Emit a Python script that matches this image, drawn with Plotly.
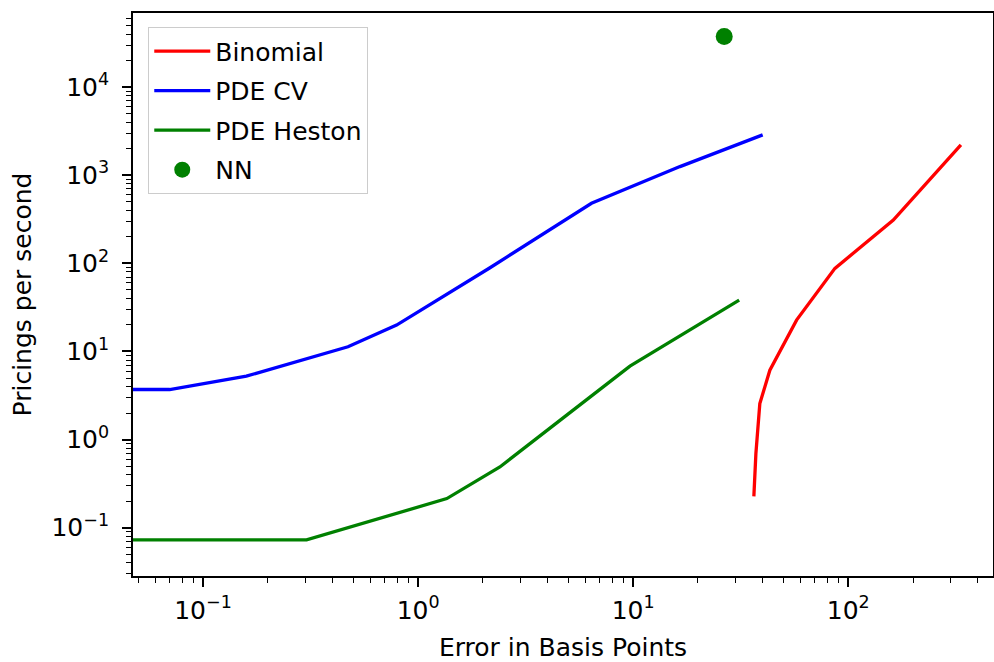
import plotly.graph_objects as go

# ---- data ----
binomial_err = [36.4, 37.2, 38.8, 43.2, 57.5, 86.7, 162, 334]
binomial_pps = [0.227, 0.693, 2.56, 6.13, 22.7, 87.7, 310, 2208]

pdecv_err = [0.04, 0.070, 0.159, 0.292, 0.472, 0.794, 2.15, 6.40, 16.5, 40.0]
pdecv_pps = [3.70, 3.70, 5.24, 7.96, 11.3, 19.9, 88.5, 481, 1253, 2871]

heston_err = [0.04, 0.303, 1.36, 2.40, 4.71, 9.66, 31.1]
heston_pps = [0.0727, 0.0727, 0.214, 0.489, 1.75, 6.81, 38.3]

nn_err = [26.5]
nn_pps = [37600]

x_major = [0.1, 1, 10, 100]
x_major_text = ["10<sup>−1</sup>", "10<sup>0</sup>", "10<sup>1</sup>", "10<sup>2</sup>"]
y_major = [0.1, 1, 10, 100, 1000, 10000]
y_major_text = ["10<sup>−1</sup>", "10<sup>0</sup>", "10<sup>1</sup>", "10<sup>2</sup>",
                "10<sup>3</sup>", "10<sup>4</sup>"]

x_minor = [m * 10 ** k for k in range(-2, 3) for m in range(2, 10)]
y_minor = [m * 10 ** k for k in range(-2, 5) for m in range(2, 10)]

FONT = "DejaVu Sans"
FS = 25
LW = 3.3

fig = go.Figure()
fig.add_trace(go.Scatter(x=binomial_err, y=binomial_pps, mode="lines", name="Binomial",
                         line=dict(color="#ff0000", width=LW), legendgroup="a"))
fig.add_trace(go.Scatter(x=pdecv_err, y=pdecv_pps, mode="lines", name="PDE CV",
                         line=dict(color="#0000ff", width=LW), legendgroup="b"))
fig.add_trace(go.Scatter(x=heston_err, y=heston_pps, mode="lines", name="PDE Heston",
                         line=dict(color="#008000", width=LW), legendgroup="c"))
fig.add_trace(go.Scatter(x=nn_err, y=nn_pps, mode="markers", name="NN",
                         marker=dict(color="#008000", size=17), legendgroup="d"))

axis_common = dict(
    type="log",
    automargin=False,
    showgrid=False,
    zeroline=False,
    showline=True,
    linecolor="black",
    linewidth=1.8,
    mirror=True,
    ticks="outside",
    ticklen=9,
    tickwidth=1.6,
    tickcolor="black",
    tickmode="array",
    tickfont=dict(family=FONT, size=FS, color="black"),
)

fig.update_xaxes(
    **axis_common,
    range=[-1.3256, 2.673],
    tickvals=x_major,
    ticktext=x_major_text,
    ticklabelstandoff=2,
    minor=dict(tickmode="array", tickvals=x_minor, ticks="outside", ticklen=5.5,
               tickwidth=1.2, tickcolor="black", showgrid=False),
    title=dict(text="Error in Basis Points", font=dict(family=FONT, size=FS, color="black"),
               standoff=34),
)
fig.update_yaxes(
    **axis_common,
    range=[-1.548, 4.841],
    tickvals=y_major,
    ticktext=y_major_text,
    ticklabelstandoff=8,
    minor=dict(tickmode="array", tickvals=y_minor, ticks="outside", ticklen=5.5,
               tickwidth=1.2, tickcolor="black", showgrid=False),
    title=dict(text="Pricings per second", font=dict(family=FONT, size=FS, color="black"),
               standoff=13),
)

fig.update_layout(
    width=994,
    height=662,
    margin=dict(l=133, r=1, t=13, b=86),
    paper_bgcolor="white",
    plot_bgcolor="white",
    font=dict(family=FONT, size=FS, color="black"),
    showlegend=True,
    legend=dict(
        x=0.0174, y=0.975, xanchor="left", yanchor="top",
        bgcolor="rgba(255,255,255,0.8)",
        bordercolor="#cccccc", borderwidth=1.3,
        font=dict(family=FONT, size=FS, color="black"),
        tracegroupgap=4,
        itemwidth=56,
    ),
)

# remove the browser's default page margin so the figure fills the window exactly
fig.write_html(
    "out.html",
    config={"displayModeBar": False},
    post_script="document.body.style.margin='0';document.body.style.overflow='hidden';",
)
